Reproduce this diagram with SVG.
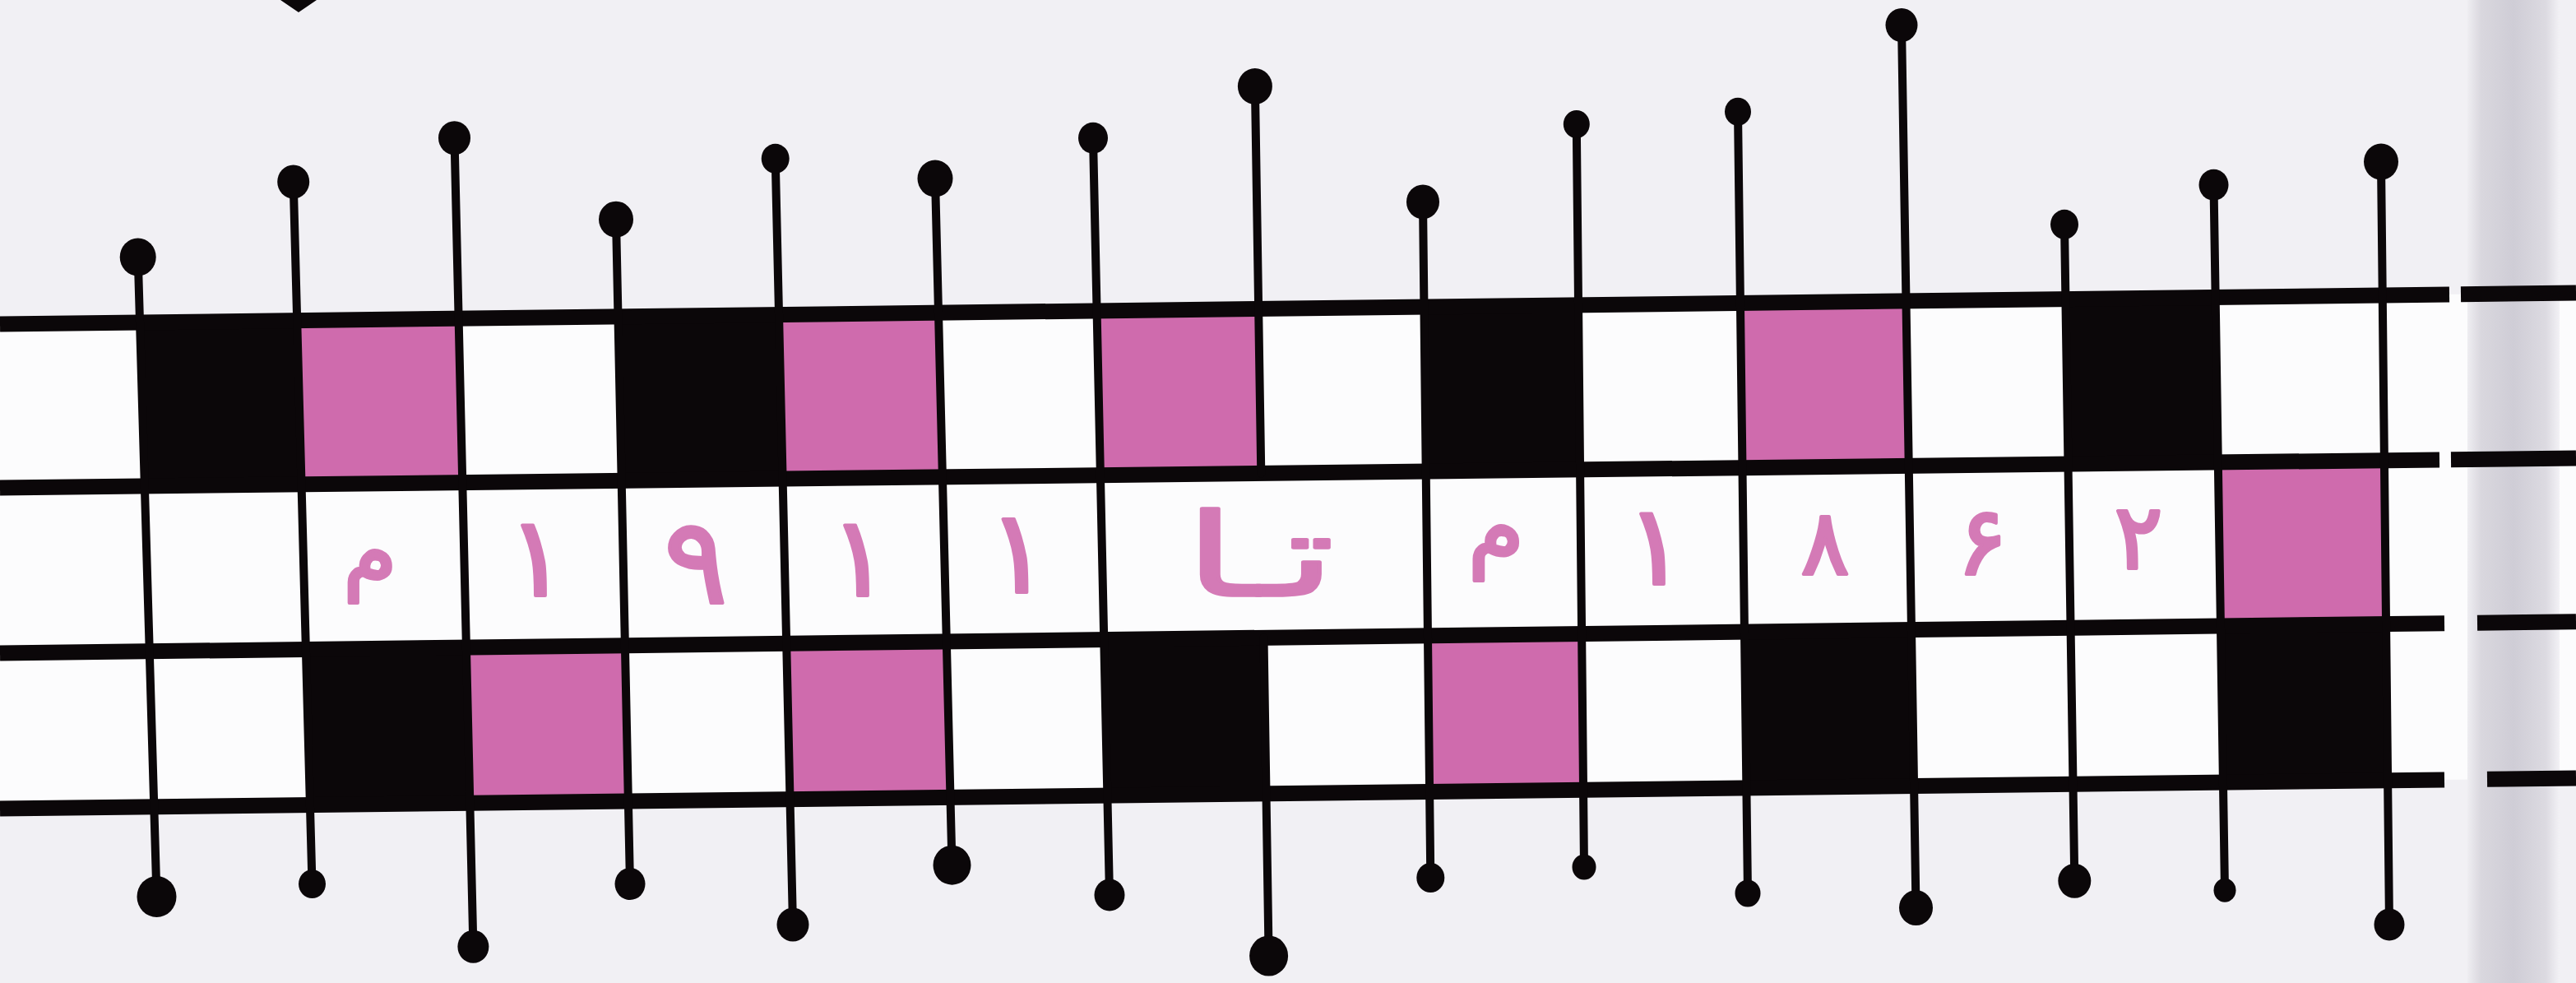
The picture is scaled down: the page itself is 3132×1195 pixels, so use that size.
<svg xmlns="http://www.w3.org/2000/svg" width="3132" height="1195" viewBox="0 0 3132 1195">
<defs>
<style>
.blk{fill:#0b0709}
.pnk{fill:#cf6bad}
.band{stroke:#0b0709;stroke-width:19;fill:none}
.stem{stroke:#0b0709;stroke-width:10;fill:none;stroke-linecap:round}
.dot{fill:#0b0709}
.num{font-family:"DejaVu Sans",sans-serif;fill:#d47ab6;stroke:#d47ab6;stroke-width:4;stroke-linejoin:round;text-anchor:middle}
.word{font-family:"DejaVu Sans Mono","DejaVu Sans",monospace;fill:#d47ab6;stroke:#d47ab6;stroke-width:3.5;stroke-linejoin:round;text-anchor:middle}
</style>
<linearGradient id="edge" x1="0" x2="1" y1="0" y2="0">
<stop offset="0" stop-color="#eeedf1"/>
<stop offset="0.15" stop-color="#d9d7de"/>
<stop offset="0.5" stop-color="#cfcdd6"/>
<stop offset="0.85" stop-color="#dcdae1"/>
<stop offset="1" stop-color="#f2f1f5"/>
</linearGradient>
</defs>
<rect x="0" y="0" width="3132" height="1195" fill="#f1f0f4"/>
<polygon points="0,394 3132,356 3132,946 0,983" fill="#fcfcfd"/>
<rect x="3000" y="0" width="112" height="1195" fill="url(#edge)"/>
<polygon class="blk" points="341,0 385,0 363,15"/>

<g id="row-top">
<polygon class="blk" points="170,392 361,390 367,589 176,591"/>
<polygon class="pnk" points="361,390 558,387 562,587 367,589"/>
<polygon class="blk" points="752,385 947,383 952,582 756,584"/>
<polygon class="pnk" points="947,383 1141,380 1146,580 952,582"/>
<polygon class="pnk" points="1334,378 1530,376 1533,575 1338,578"/>
<polygon class="blk" points="1731,373 1919,371 1921,571 1734,573"/>
<polygon class="pnk" points="2116,368 2318,366 2321,566 2119,569"/>
<polygon class="blk" points="2511,364 2694,361 2697,562 2515,564"/>
</g>
<g id="row-middle">
<polygon class="pnk" points="2697,562 2899,560 2901,759 2700,761"/>
</g>
<g id="row-bottom">
<polygon class="blk" points="372,790 567,787 571,976 377,979"/>
<polygon class="pnk" points="567,787 760,785 764,974 571,976"/>
<polygon class="pnk" points="956,782 1151,780 1156,969 961,972"/>
<polygon class="blk" points="1342,778 1537,775 1540,965 1346,967"/>
<polygon class="pnk" points="1736,773 1923,771 1925,960 1738,963"/>
<polygon class="blk" points="2121,768 2324,766 2327,956 2123,958"/>
<polygon class="blk" points="2700,761 2901,759 2903,949 2703,951"/>
</g>

<g id="connectors">
<g id="bands">
<line class="band" x1="0" y1="394" x2="2978" y2="358"/>
<line class="band" x1="2992" y1="357.8" x2="3132" y2="356.1"/>
<line class="band" x1="0" y1="593" x2="2966" y2="558.9"/>
<line class="band" x1="2980" y1="558.7" x2="3132" y2="557"/>
<line class="band" x1="0" y1="794" x2="2972" y2="757.7"/>
<line class="band" x1="3012" y1="757.3" x2="3132" y2="755.8"/>
<line class="band" x1="0" y1="983" x2="2972" y2="947.9"/>
<line class="band" x1="3024" y1="947.3" x2="3132" y2="946"/>
</g>
<g id="stems">
<line class="stem" x1="167.7" y1="312.5" x2="190.5" y2="1090"/>
<line class="stem" x1="356.7" y1="221" x2="379.5" y2="1074.6"/>
<line class="stem" x1="552.5" y1="167.7" x2="575.4" y2="1150.8"/>
<line class="stem" x1="749" y1="266.7" x2="766" y2="1074.6"/>
<line class="stem" x1="942.7" y1="192.8" x2="964" y2="1124"/>
<line class="stem" x1="1137" y1="217" x2="1157.5" y2="1051.7"/>
<line class="stem" x1="1329" y1="167.7" x2="1349" y2="1088"/>
<line class="stem" x1="1525.9" y1="105" x2="1533.3" y2="575.4"/>
<line class="stem" x1="1536.5" y1="775.2" x2="1542.6" y2="1162"/>
<line class="stem" x1="1730" y1="245.4" x2="1739.3" y2="1067"/>
<line class="stem" x1="1916.8" y1="151" x2="1926" y2="1054"/>
<line class="stem" x1="2113" y1="135.7" x2="2125" y2="1086"/>
<line class="stem" x1="2312" y1="30.5" x2="2329.5" y2="1103.6"/>
<line class="stem" x1="2510" y1="272.8" x2="2522.3" y2="1070.8"/>
<line class="stem" x1="2691.5" y1="224.8" x2="2705" y2="1082.2"/>
<line class="stem" x1="2895" y1="196.6" x2="2905" y2="1124"/>
</g>
</g>

<g id="dots">
<ellipse class="dot" cx="167.7" cy="312.5" rx="22" ry="23"/>
<ellipse class="dot" cx="190.5" cy="1090" rx="24" ry="25"/>
<ellipse class="dot" cx="356.7" cy="221" rx="19.5" ry="20.5"/>
<ellipse class="dot" cx="379.5" cy="1074.6" rx="16.5" ry="17.5"/>
<ellipse class="dot" cx="552.5" cy="167.7" rx="19.5" ry="20.5"/>
<ellipse class="dot" cx="575.4" cy="1150.8" rx="19" ry="20"/>
<ellipse class="dot" cx="749" cy="266.7" rx="21" ry="22"/>
<ellipse class="dot" cx="766" cy="1074.6" rx="18.5" ry="19.5"/>
<ellipse class="dot" cx="942.7" cy="192.8" rx="17" ry="18"/>
<ellipse class="dot" cx="964" cy="1124" rx="19.5" ry="20.5"/>
<ellipse class="dot" cx="1137" cy="217" rx="21.5" ry="22.5"/>
<ellipse class="dot" cx="1157.5" cy="1051.7" rx="23" ry="24"/>
<ellipse class="dot" cx="1329" cy="167.7" rx="18" ry="19"/>
<ellipse class="dot" cx="1349" cy="1088" rx="18.5" ry="19.5"/>
<ellipse class="dot" cx="1525.9" cy="105" rx="21" ry="22"/>
<ellipse class="dot" cx="1542.6" cy="1162" rx="23.5" ry="24.5"/>
<ellipse class="dot" cx="1730" cy="245.4" rx="20" ry="21"/>
<ellipse class="dot" cx="1739.3" cy="1067" rx="17" ry="18"/>
<ellipse class="dot" cx="1916.8" cy="151" rx="16" ry="17"/>
<ellipse class="dot" cx="1926" cy="1054" rx="14.5" ry="15.5"/>
<ellipse class="dot" cx="2113" cy="135.7" rx="16" ry="17"/>
<ellipse class="dot" cx="2125" cy="1086" rx="15.5" ry="16.5"/>
<ellipse class="dot" cx="2312" cy="30.5" rx="19.5" ry="20.5"/>
<ellipse class="dot" cx="2329.5" cy="1103.6" rx="20.5" ry="21.5"/>
<ellipse class="dot" cx="2510" cy="272.8" rx="17" ry="18"/>
<ellipse class="dot" cx="2522.3" cy="1070.8" rx="20" ry="21"/>
<ellipse class="dot" cx="2691.5" cy="224.8" rx="18" ry="19"/>
<ellipse class="dot" cx="2705" cy="1082.2" rx="13.5" ry="14.5"/>
<ellipse class="dot" cx="2895" cy="196.6" rx="21" ry="22"/>
<ellipse class="dot" cx="2905" cy="1124" rx="18.5" ry="19.5"/>
</g>

<g id="labels">
<text class="num" x="450" y="708" font-size="105">م</text>
<text class="num" x="653" y="724" font-size="135">۱</text>
<text class="num" x="846" y="733" font-size="145">۹</text>
<text class="num" x="1045" y="724" font-size="135">۱</text>
<text class="num" x="1238" y="720" font-size="140">۱</text>
<g transform="translate(1530,724) scale(1.55,1)"><text class="word" x="0" y="0" font-size="140">تا</text></g>
<text class="num" x="1819" y="680" font-size="110">م</text>
<text class="num" x="2013" y="710" font-size="135">۱</text>
<text class="num" x="2219" y="698" font-size="110">۸</text>
<text class="num" x="2410" y="698" font-size="115">۶</text>
<text class="num" x="2600" y="691" font-size="110">۲</text>
</g>
</svg>
